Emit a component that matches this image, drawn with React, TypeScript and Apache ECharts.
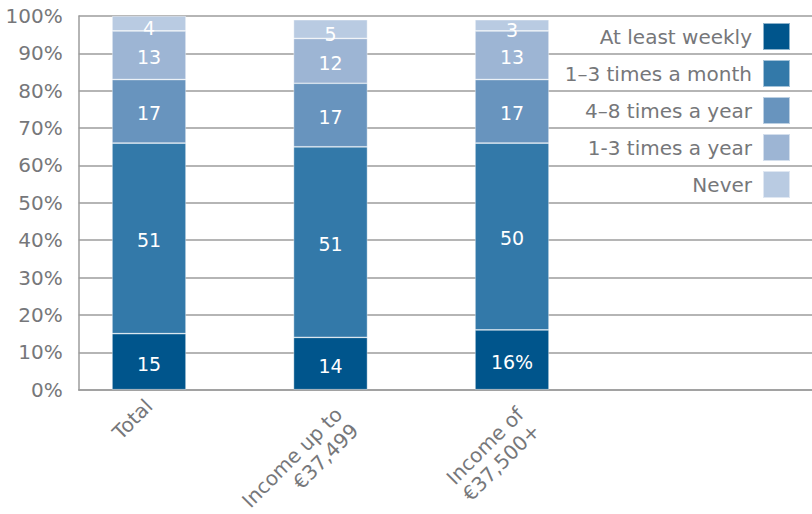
import React, { useEffect, useRef } from "react";
import * as echarts from "echarts";

// Frequency of visits, by household income (% of respondents)
const categories = ["Total", "Income up to\n€37,499", "Income of\n€37,500+"];
const seriesNames = [
  "At least weekly",
  "1–3 times a month",
  "4–8 times a year",
  "1-3 times a year",
  "Never",
];
const atLeastWeekly = [15, 14, 16];
const timesAMonth = [51, 51, 50];
const fourToEightAYear = [17, 17, 17];
const oneToThreeAYear = [13, 12, 13];
const never = [4, 5, 3];

const colors = ["#00558c", "#3379a9", "#6894be", "#9db5d4", "#b9cbe2"];
const grey = "#76777a";
const lineGrey = "#9c9c9c";
const font = "DejaVu Sans";

export default function App() {
  const ref = useRef<HTMLDivElement>(null);

  useEffect(() => {
    if (!ref.current) return;
    const chart = echarts.init(ref.current, null, { renderer: "svg" });

    const values = [atLeastWeekly, timesAMonth, fourToEightAYear, oneToThreeAYear, never];

    const series = values.map((vals, i) => ({
      name: seriesNames[i],
      type: "bar",
      stack: "total",
      xAxisIndex: 1,
      yAxisIndex: 1,
      barWidth: 74,
      itemStyle: {
        color: colors[i],
        borderColor: "rgba(255,255,255,0.55)",
        borderWidth: 0.7,
      },
      label: {
        show: true,
        position: "inside",
        color: "#ffffff",
        fontFamily: font,
        fontSize: 19,
        offset: [0, i === 4 ? 5 : 2],
      },
      data: vals.map((v, j) =>
        i === 0 && j === 2 ? { value: v, label: { formatter: "{c}%" } } : v
      ),
    }));

    // two-line category names hang from their first line
    const categoryData = categories.map((c) =>
      c.includes("\n") ? { value: c, textStyle: { verticalAlign: "top" } } : c
    );

    chart.setOption({
      animation: false,
      legend: {
        orient: "vertical",
        right: 21,
        top: 22,
        padding: 0,
        align: "right",
        icon: "rect",
        itemWidth: 27,
        itemHeight: 27,
        itemGap: 8,
        selectedMode: false,
        data: seriesNames,
        textStyle: {
          color: grey,
          fontFamily: font,
          fontSize: 20,
          lineHeight: 27,
          padding: [0, 6, 0, 0],
        },
      },
      grid: [
        { left: 78.7, right: 0, top: 16, bottom: 124.3, outerBoundsMode: "none" },
        { left: 58.25, right: 209.25, top: 16, bottom: 124.3, outerBoundsMode: "none" },
      ],
      xAxis: [
        {
          gridIndex: 0,
          type: "value",
          min: 0,
          max: 1,
          axisLine: { show: true, lineStyle: { color: lineGrey, width: 1.5 } },
          axisTick: { show: false },
          axisLabel: { show: false },
          splitLine: { show: false },
        },
        {
          gridIndex: 1,
          type: "category",
          data: categoryData,
          axisLine: { show: false },
          axisTick: { show: false },
          axisLabel: {
            rotate: 45,
            margin: 13,
            color: grey,
            fontFamily: font,
            fontSize: 20,
            lineHeight: 23,
            align: "right",
          },
        },
      ],
      yAxis: [
        {
          gridIndex: 0,
          type: "value",
          min: 0,
          max: 100,
          interval: 10,
          axisLine: { show: true, lineStyle: { color: lineGrey, width: 1.5 } },
          axisTick: { show: false },
          axisLabel: {
            formatter: "{value}%",
            margin: 16,
            color: grey,
            fontFamily: font,
            fontSize: 20,
            padding: [3, 0, 0, 0],
          },
          splitLine: { show: true, lineStyle: { color: lineGrey, width: 1.5 } },
        },
        {
          gridIndex: 1,
          type: "value",
          min: 0,
          max: 100,
          show: false,
          splitLine: { show: false },
        },
      ],
      series,
    });

    return () => chart.dispose();
  }, []);

  return (
    <div
      ref={ref}
      style={{ position: "absolute", left: 0, top: 0, width: 812, height: 514, background: "#fff" }}
    />
  );
}
